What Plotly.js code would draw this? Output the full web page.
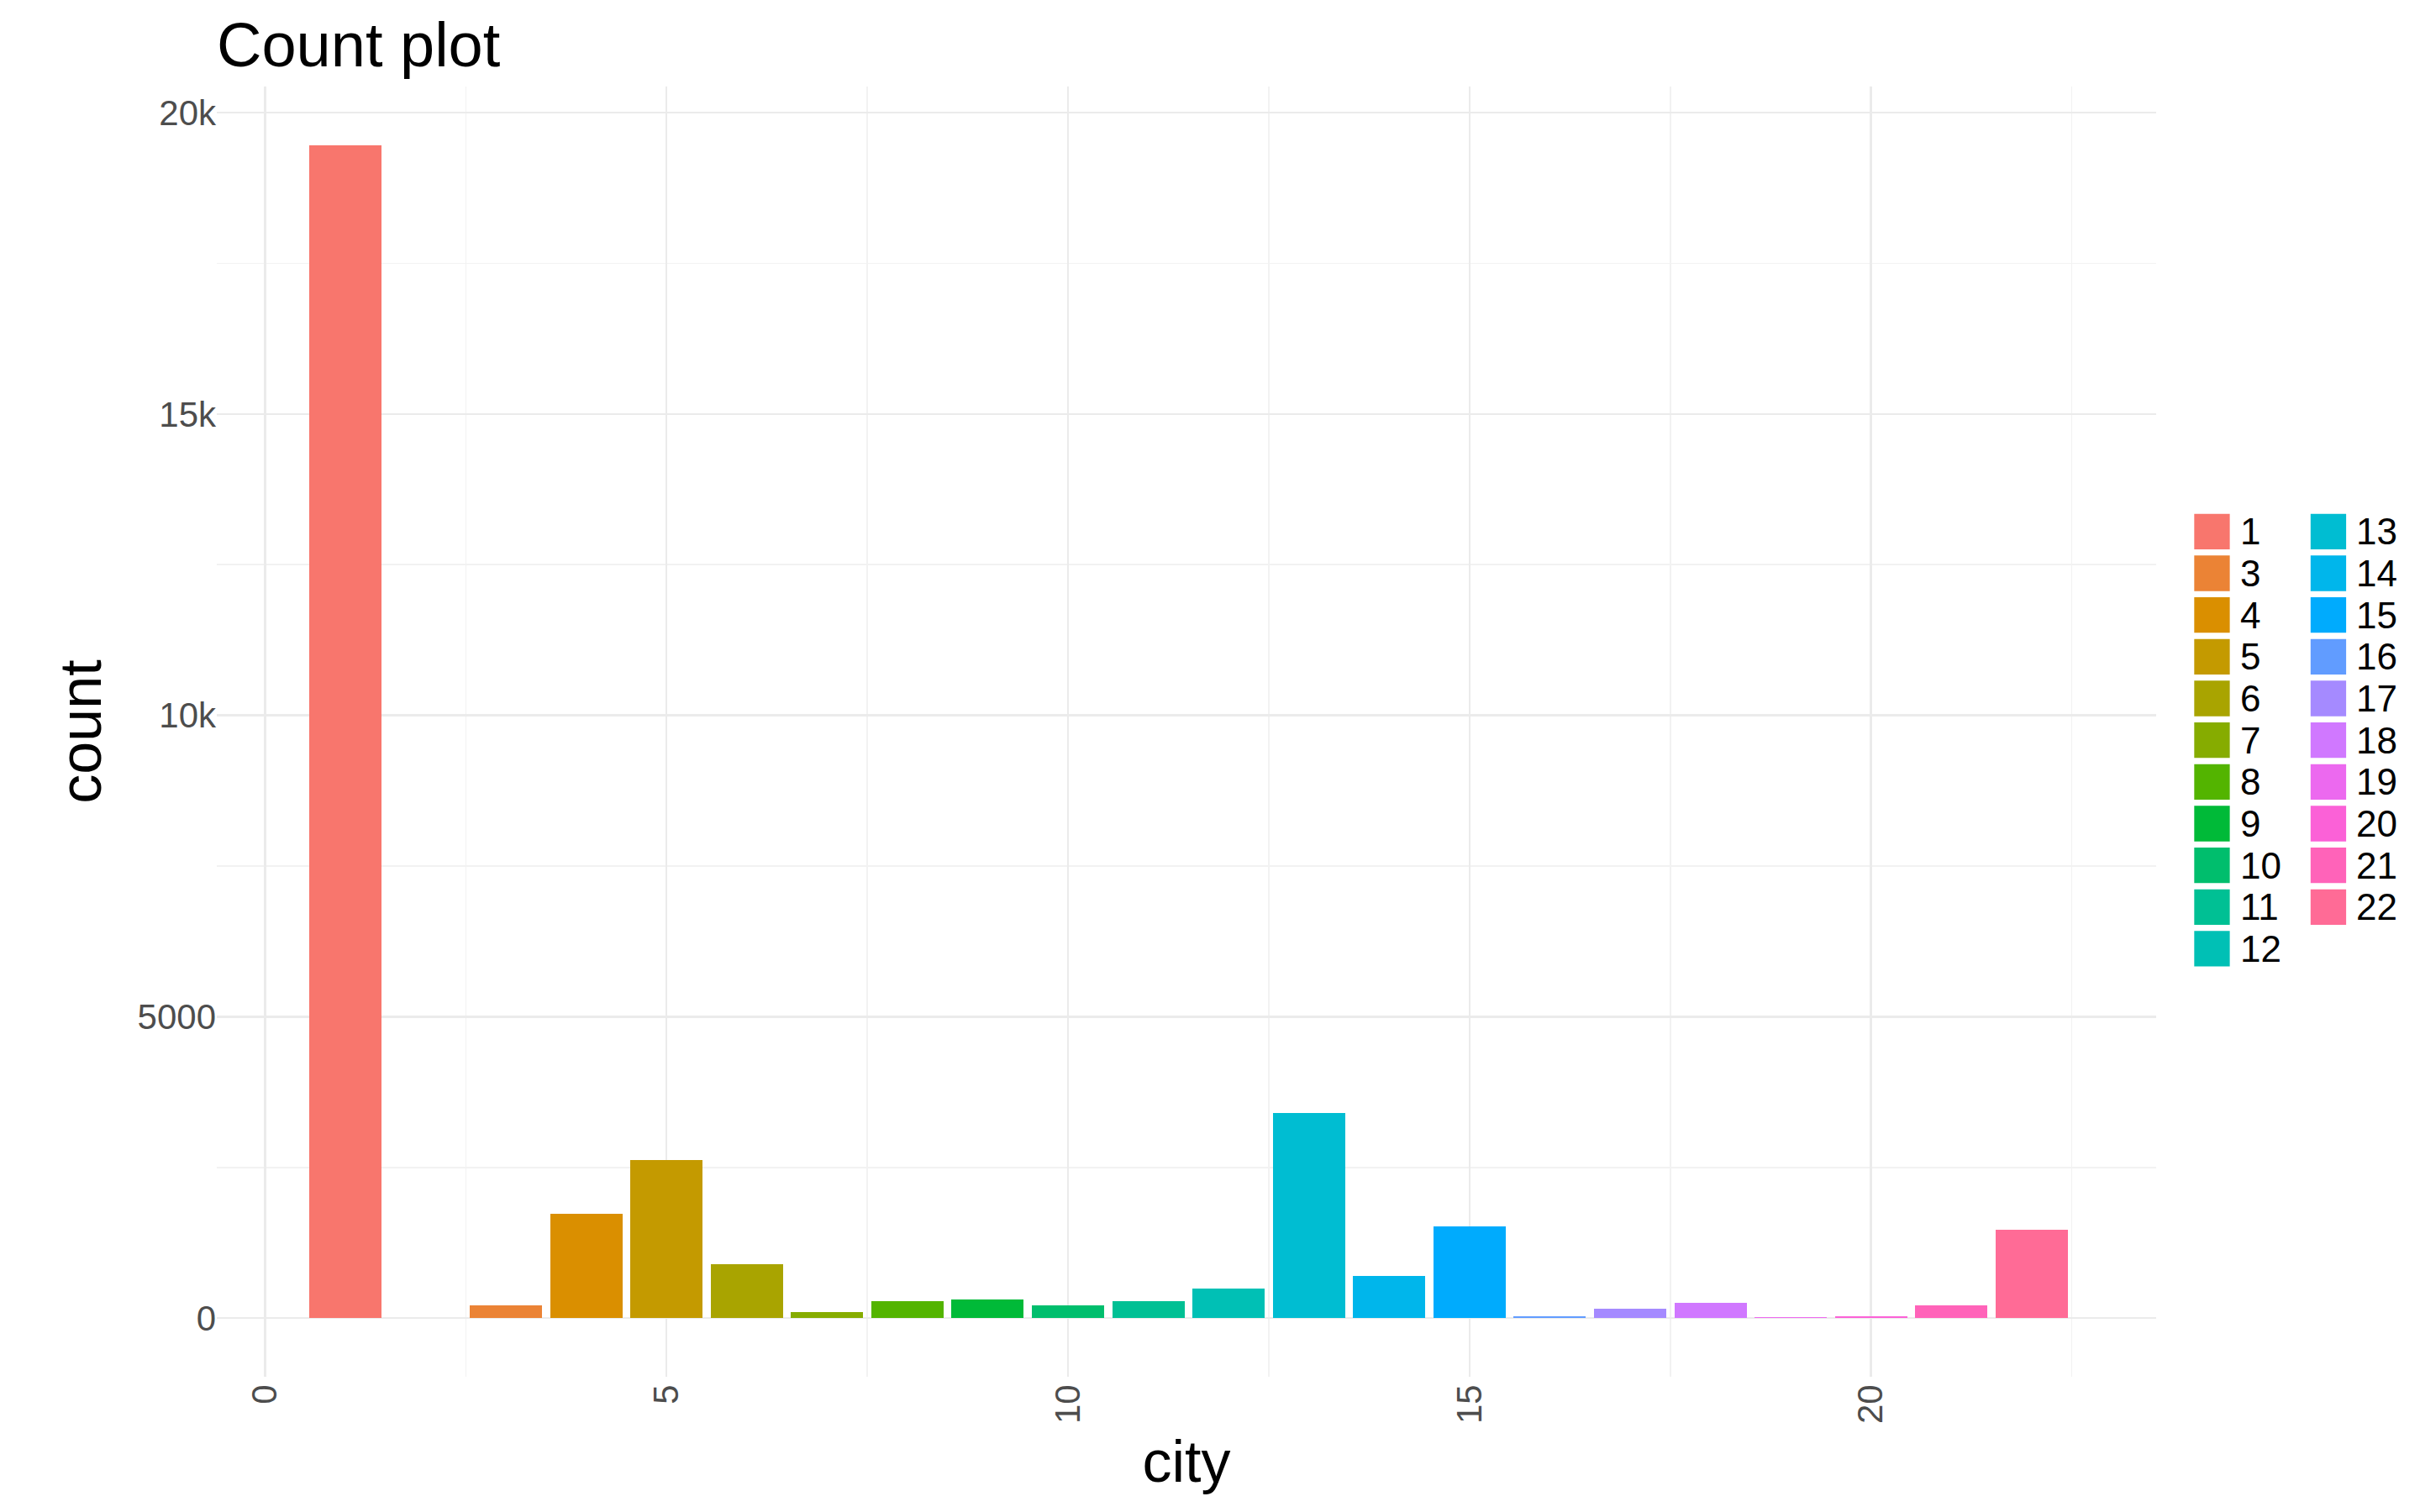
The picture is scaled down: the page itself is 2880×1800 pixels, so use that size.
<!DOCTYPE html>
<html><head><meta charset="utf-8">
<script src="https://cdn.plot.ly/plotly-3.0.1.min.js"></script>
<style>body{margin:0}</style></head>
<body><div id="plot" style="width:2880px;height:1800px"></div>
<script>
var cities = [1,3,4,5,6,7,8,9,10,11,12,13,14,15,16,17,18,19,20,21,22];
var counts = [19460,210,1725,2625,900,100,280,310,205,280,490,3400,700,1520,30,150,255,10,30,205,1470];

// ggplot2 hue palette (hcl, l=65, c=100)
function hcl(h, c, l) {
    var hr = h * Math.PI / 180, u = c * Math.cos(hr), v = c * Math.sin(hr);
    var un = 0.19783, vn = 0.46832;
    var Y = l > 8 ? Math.pow((l + 16) / 116, 3) : l / 903.3;
    var up = u / (13 * l) + un, vp = v / (13 * l) + vn;
    var X = Y * 9 * up / (4 * vp), Z = Y * (12 - 3 * up - 20 * vp) / (4 * vp);
    var r = 3.2406 * X - 1.5372 * Y - 0.4986 * Z;
    var g = -0.9689 * X + 1.8758 * Y + 0.0415 * Z;
    var b = 0.0557 * X - 0.2040 * Y + 1.0570 * Z;
    function f(c) { c = c <= 0.0031308 ? 12.92 * c : 1.055 * Math.pow(c, 1 / 2.4) - 0.055; return Math.round(Math.max(0, Math.min(1, c)) * 255); }
    return 'rgb(' + f(r) + ',' + f(g) + ',' + f(b) + ')';
}
var colors = cities.map(function (c, i) { return hcl(15 + i * 360 / cities.length, 100, 65); });

var data = [{
    x: cities, y: counts, type: 'bar', width: 0.9,
    marker: {color: colors}, showlegend: false, hoverinfo: 'none'
}];

// legend built by hand (two columns, like ggplot)
var shapes = [], annotations = [];
function px(x) { return (x - 140) / 1250; }
function py(y) { return (888 - y) / 832; }
for (var i = 0; i < cities.length; i++) {
    var col = i < 11 ? 0 : 1, row = i < 11 ? i : i - 11;
    var x0 = col ? 1489 : 1414, y0 = 330 + row * 26.9;
    shapes.push({type: 'rect', xref: 'paper', yref: 'paper', x0: px(x0), x1: px(x0 + 24),
        y0: py(y0 + 25), y1: py(y0 + 1), fillcolor: colors[i], line: {color: 'white', width: 2}});
    annotations.push({xref: 'paper', yref: 'paper', x: px(x0 + 29), y: py(y0 + 13), text: String(cities[i]),
        showarrow: false, xanchor: 'left', yanchor: 'middle', font: {size: 44, color: 'black'}});
}

var layout = {
    width: 2880, height: 1800,
    margin: {l: 258, r: 314, t: 103, b: 161},
    paper_bgcolor: 'white', plot_bgcolor: 'white',
    font: {family: 'Liberation Sans, Arial, sans-serif'},
    title: {text: 'Count plot', x: 0, xref: 'paper', xanchor: 'left', y: 0.985, yanchor: 'top',
        font: {size: 74, color: 'black'}},
    xaxis: {range: [-0.6, 23.55], tickvals: [0, 5, 10, 15, 20], tickangle: -90,
        tickfont: {size: 42, color: '#4d4d4d'}, showgrid: true, gridcolor: '#ebebeb', gridwidth: 2.5,
        zeroline: false, ticks: '', ticklen: 0,
        minor: {tickvals: [2.5, 7.5, 12.5, 17.5, 22.5], showgrid: true, gridcolor: '#f2f2f2', gridwidth: 1.5},
        title: {text: 'city', font: {size: 70, color: 'black'}, standoff: 20}},
    yaxis: {range: [-973, 20433], tickvals: [0, 5000, 10000, 15000, 20000],
        tickfont: {size: 42, color: '#4d4d4d'}, showgrid: true, gridcolor: '#ebebeb', gridwidth: 2.5,
        zeroline: false, ticks: '',
        minor: {tickvals: [2500, 7500, 12500, 17500], showgrid: true, gridcolor: '#f2f2f2', gridwidth: 1.5},
        title: {text: 'count', font: {size: 70, color: 'black'}, standoff: 20}},
    shapes: shapes, annotations: annotations, bargap: 0
};
Plotly.newPlot('plot', data, layout, {displayModeBar: false, staticPlot: true});
</script></body></html>
